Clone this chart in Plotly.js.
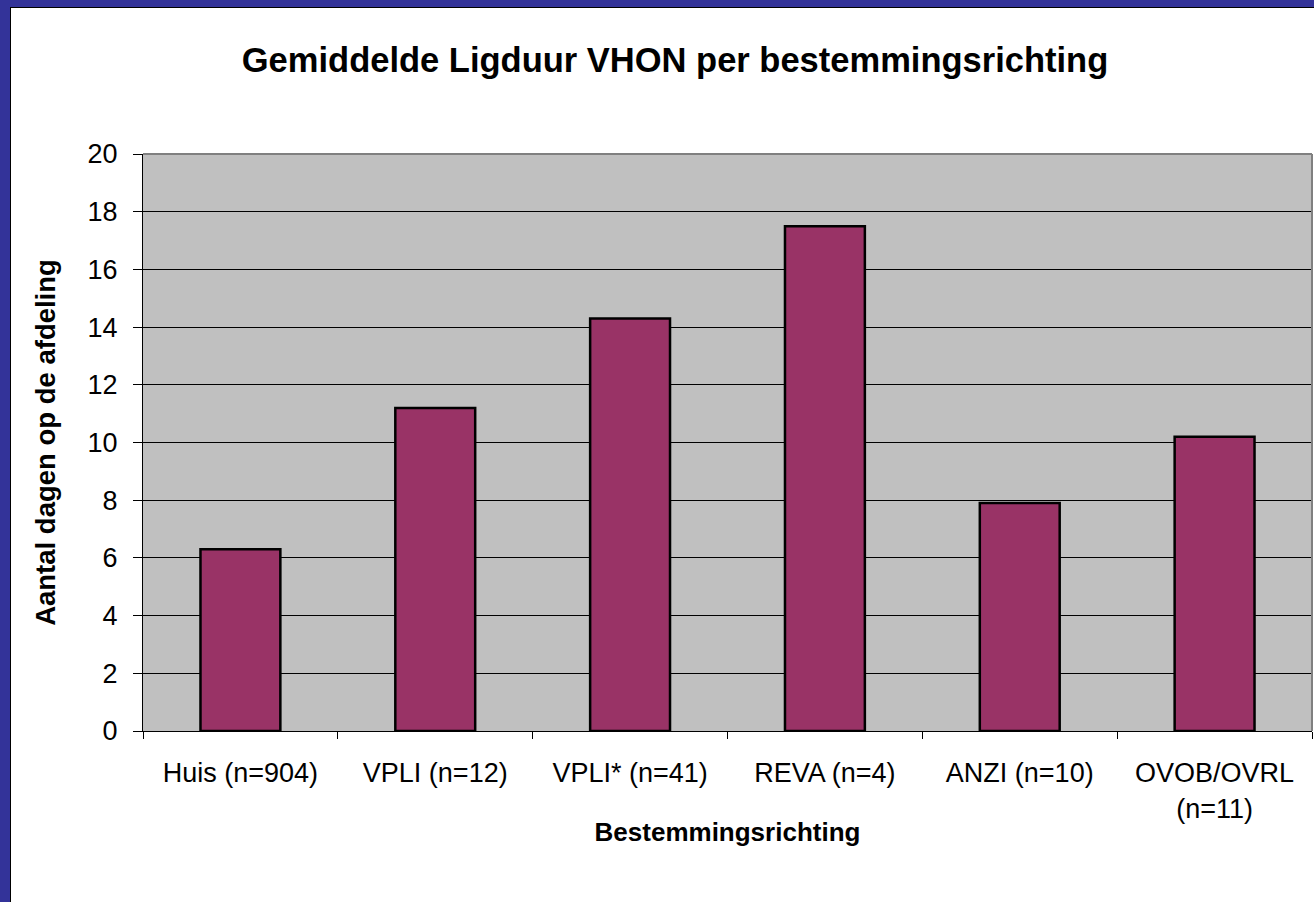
<!DOCTYPE html>
<html>
<head>
<meta charset="utf-8">
<script src="https://cdn.plot.ly/plotly-3.0.1.min.js"></script>
<style>
  html, body { margin: 0; padding: 0; background: #fff; }
  #frame { width: 1304px; height: 895px; border-left: 10px solid #333399; border-top: 7px solid #333399; }
  #inner { width: 1303px; height: 894px; border-left: 1px solid #000; border-top: 1px solid #000; }
  #chart { width: 1303px; height: 894px; }
</style>
</head>
<body>
<div id="frame"><div id="inner"><div id="chart"></div></div></div>
<script>
const categories = ["Huis (n=904)", "VPLI (n=12)", "VPLI* (n=41)", "REVA (n=4)", "ANZI (n=10)", "OVOB/OVRL<br>(n=11)"];
const values = [6.3, 11.2, 14.3, 17.5, 7.9, 10.2];
const yTicks = [0, 2, 4, 6, 8, 10, 12, 14, 16, 18, 20];

const chartTitle = "Gemiddelde Ligduur VHON per bestemmingsrichting";
const xTitle = "Bestemmingsrichting";
const yTitle = "Aantal dagen op de afdeling";

const font = "Liberation Sans, Arial, sans-serif";

const trace = {
  type: "bar",
  x: categories,
  y: values,
  marker: { color: "#993366", line: { color: "#000000", width: 2.5 } },
  hoverinfo: "x+y"
};

const layout = {
  width: 1303,
  height: 894,
  margin: { l: 132, r: 2, t: 146, b: 171 },
  paper_bgcolor: "#ffffff",
  plot_bgcolor: "#c0c0c0",
  font: { family: font, color: "#000", size: 27 },
  bargap: 0.59,
  showlegend: false,
  title: {
    text: "<b>" + chartTitle + "</b>",
    font: { family: font, size: 34.5, color: "#000" },
    xref: "container", x: 0.5096, xanchor: "center",
    yref: "container", y: 0.942, yanchor: "middle"
  },
  xaxis: {
    type: "category",
    tickson: "boundaries",
    ticks: "outside",
    ticklen: 7,
    tickcolor: "#000",
    showline: true,
    linecolor: "#000",
    linewidth: 1,
    showgrid: false,
    tickfont: { family: font, size: 27, color: "#000" },
    ticklabelstandoff: 18,
    title: { text: "<b>" + xTitle + "</b>", font: { family: font, size: 26, color: "#000" }, standoff: 0 }
  },
  yaxis: {
    range: [0, 20],
    tickvals: yTicks,
    ticks: "outside",
    ticklen: 9,
    tickcolor: "#000",
    showline: true,
    linecolor: "#000",
    linewidth: 1,
    showgrid: true,
    gridcolor: "#000",
    gridwidth: 1,
    zeroline: false,
    tickfont: { family: font, size: 27, color: "#000" },
    ticklabelstandoff: 10,
    title: { text: "<b>" + yTitle + "</b>", font: { family: font, size: 27.5, color: "#000" }, standoff: 23 }
  },
  shapes: [
    { type: "line", xref: "paper", yref: "paper", x0: 0, x1: 1, y0: 1, y1: 1, line: { color: "#808080", width: 2 } },
    { type: "line", xref: "paper", yref: "paper", x0: 1, x1: 1, y0: 0, y1: 1, line: { color: "#808080", width: 2 } }
  ]
};

Plotly.newPlot("chart", [trace], layout, { displayModeBar: false, staticPlot: true });
</script>
</body>
</html>
